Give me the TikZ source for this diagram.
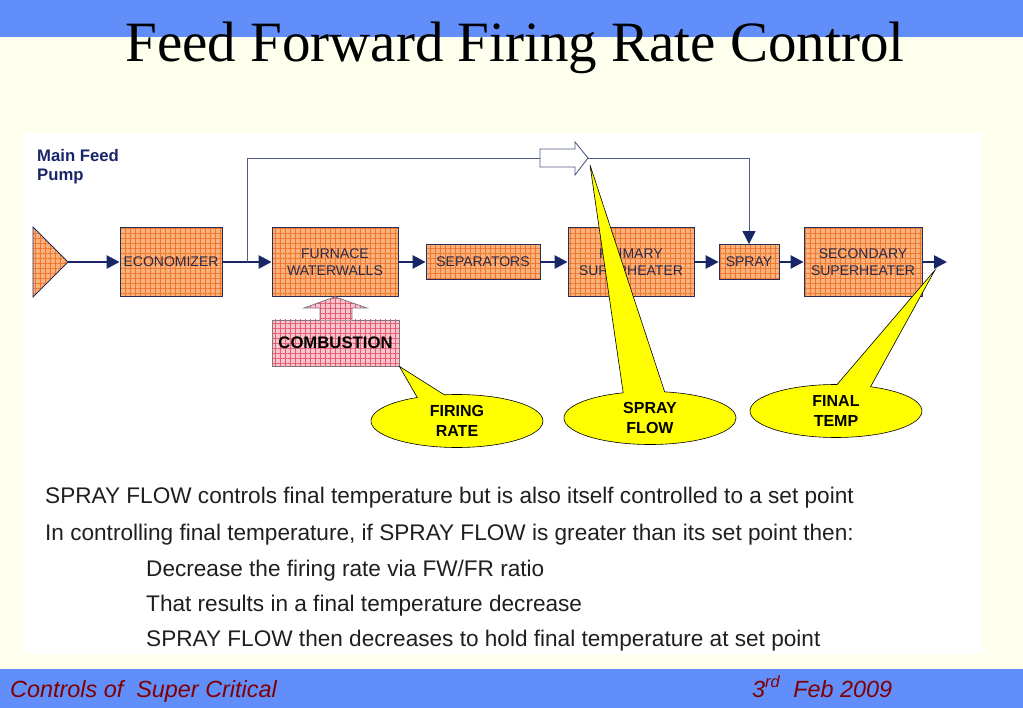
\documentclass[tikz,border=0pt]{standalone}
\usepackage{fontspec}
\setmainfont{Liberation Serif}
\setsansfont{Liberation Sans}
\usetikzlibrary{arrows.meta, positioning, calc, patterns.meta, shapes.callouts}

\definecolor{slidecream}{RGB}{255,255,238}
\definecolor{bandblue}{RGB}{98,142,250}
\definecolor{flownavy}{RGB}{24,38,104}
\definecolor{fbgray}{RGB}{80,92,135}
\definecolor{boxline}{RGB}{40,45,90}
\definecolor{unitfill}{RGB}{250,178,120}
\definecolor{unitgrid}{RGB}{238,118,50}
\definecolor{unittext}{RGB}{42,42,72}
\definecolor{burnfill}{RGB}{250,196,206}
\definecolor{burngrid}{RGB}{226,92,112}
\definecolor{burnline}{RGB}{130,118,128}
\definecolor{notefill}{RGB}{255,255,0}
\definecolor{footred}{RGB}{128,0,0}

\tikzset{
  unit/.style={draw=boxline, line width=0.8pt, preaction={fill=unitfill},
    pattern={Hatch[angle=0, distance=5pt, line width=0.45pt]}, pattern color=unitgrid,
    font=\sffamily\fontsize{14}{17}\selectfont, text=unittext,
    align=center, inner sep=0pt},
  burner/.style={draw=burnline, line width=0.8pt, preaction={fill=burnfill},
    pattern={Hatch[angle=0, distance=5pt, line width=0.45pt]}, pattern color=burngrid},
  flow/.style={draw=flownavy, line width=2.5pt, -{Triangle[length=13pt, width=13pt]}},
  fbline/.style={draw=fbgray, line width=0.9pt},
  bubble/.style={ellipse callout, draw=black, line width=0.6pt, fill=notefill,
    minimum width=172pt, minimum height=53pt, inner sep=0pt, align=center,
    font=\sffamily\bfseries\fontsize{16}{20}\selectfont},
  bodyline/.style={anchor=base west, inner sep=0pt, text=black!88,
    font=\sffamily\fontsize{22.6}{26}\selectfont},
  footline/.style={anchor=base west, inner sep=0pt, text=footred,
    font=\sffamily\itshape\fontsize{23.4}{26}\selectfont}
}

\begin{document}
\begin{tikzpicture}[x=1pt, y=-1pt]
% slide
\fill[slidecream] (0,0) rectangle (1023,708);
\fill[bandblue] (0,0) rectangle (1023,37);
\fill[white] (23,133) rectangle (982,654);
\fill[bandblue] (0,669) rectangle (1023,708);
\useasboundingbox (0,0) rectangle (1023,708);

\node[anchor=base, inner sep=0pt, font=\fontsize{57}{60}\selectfont] (title) at (515,62)
  {Feed Forward Firing Rate Control};

% plant
\node[anchor=north west, inner sep=0pt, align=left, text=flownavy,
  font=\sffamily\bfseries\fontsize{16.7}{19.5}\selectfont] (pumplabel) at (37,149) {Main Feed\\Pump};
\filldraw[unit] (33,227) -- (68,262) -- (33,297) -- cycle;
\coordinate (pump) at (68,262);

\node[unit, minimum width=102pt, minimum height=69pt] (econ) at (171,262) {ECONOMIZER};
\node[unit, minimum width=126pt, minimum height=69pt] (furnace) at (335,262) {FURNACE\\WATERWALLS};
\node[unit, minimum width=114pt, minimum height=35pt] (sep) at (483,262) {SEPARATORS};
\node[unit, minimum width=126pt, minimum height=69pt] (psh) at (631,262) {PRIMARY\\SUPERHEATER};
\node[unit, minimum width=60pt, minimum height=35pt] (spray) at (749,262) {SPRAY};
\node[unit, minimum width=118pt, minimum height=69pt] (ssh) at (863,262) {SECONDARY\\SUPERHEATER};
\coordinate (out) at (947,262);

\draw[flow] (pump) -- (econ);
\draw[flow] (econ) -- (furnace);
\draw[flow] (furnace) -- (sep);
\draw[flow] (sep) -- (psh);
\draw[flow] (psh) -- (spray);
\draw[flow] (spray) -- (ssh);
\draw[flow] (ssh) -- (out);

% feed forward
\coordinate (branch) at (247,262);
\coordinate (fbin) at (540,158);
\coordinate (fbtip) at (588,158);
\draw[fbline] (branch) |- (fbin);
\draw[fbline, fill=white] (540,149) -- (575,149) -- (575,142) -- (fbtip) -- (575,175)
  -- (575,167) -- (540,167) -- cycle;
\draw[fbline, -{Triangle[length=13pt, width=13pt, color=flownavy]}] (fbtip) -| (spray.north);

% combustion
\node[burner, minimum width=127pt, minimum height=46pt, inner sep=0pt,
  font=\sffamily\bfseries\fontsize{16.7}{20}\selectfont] (comb) at (335.5,343) {COMBUSTION};
\draw[burner] (320,320.4) -- (320,308) -- (304,308) -- (furnace.south) -- (367,308)
  -- (352,308) -- (352,320.4);

% callouts
\coordinate (sftip) at (590,165);
\coordinate (fttip) at (935,270);
\node[bubble, callout absolute pointer={(comb.south east)}, callout pointer arc=19]
  (firing) at (457,421) {FIRING\\RATE};
\node[bubble, callout absolute pointer={(sftip)}, callout pointer arc=28]
  (sprayflow) at (650,418) {SPRAY\\FLOW};
\node[bubble, callout absolute pointer={(fttip)}, callout pointer arc=23]
  (finaltemp) at (836,411) {FINAL\\TEMP};

% notes
\node[bodyline] (n1) at (45,503) {SPRAY FLOW controls final temperature but is also itself controlled to a set point};
\node[bodyline] (n2) at (45,540) {In controlling final temperature, if SPRAY FLOW is greater than its set point then:};
\node[bodyline] (n3) at (146,576) {Decrease the firing rate via FW/FR ratio};
\node[bodyline] (n4) at (146,611) {That results in a final temperature decrease};
\node[bodyline] (n5) at (146,646) {SPRAY FLOW then decreases to hold final temperature at set point};

% footer
\node[footline] (course) at (10,697) {Controls of\ \ Super Critical};
\node[footline] (date) at (752,697) {3\textsuperscript{rd}\hspace{13pt}Feb 2009};
\end{tikzpicture}
\end{document}
